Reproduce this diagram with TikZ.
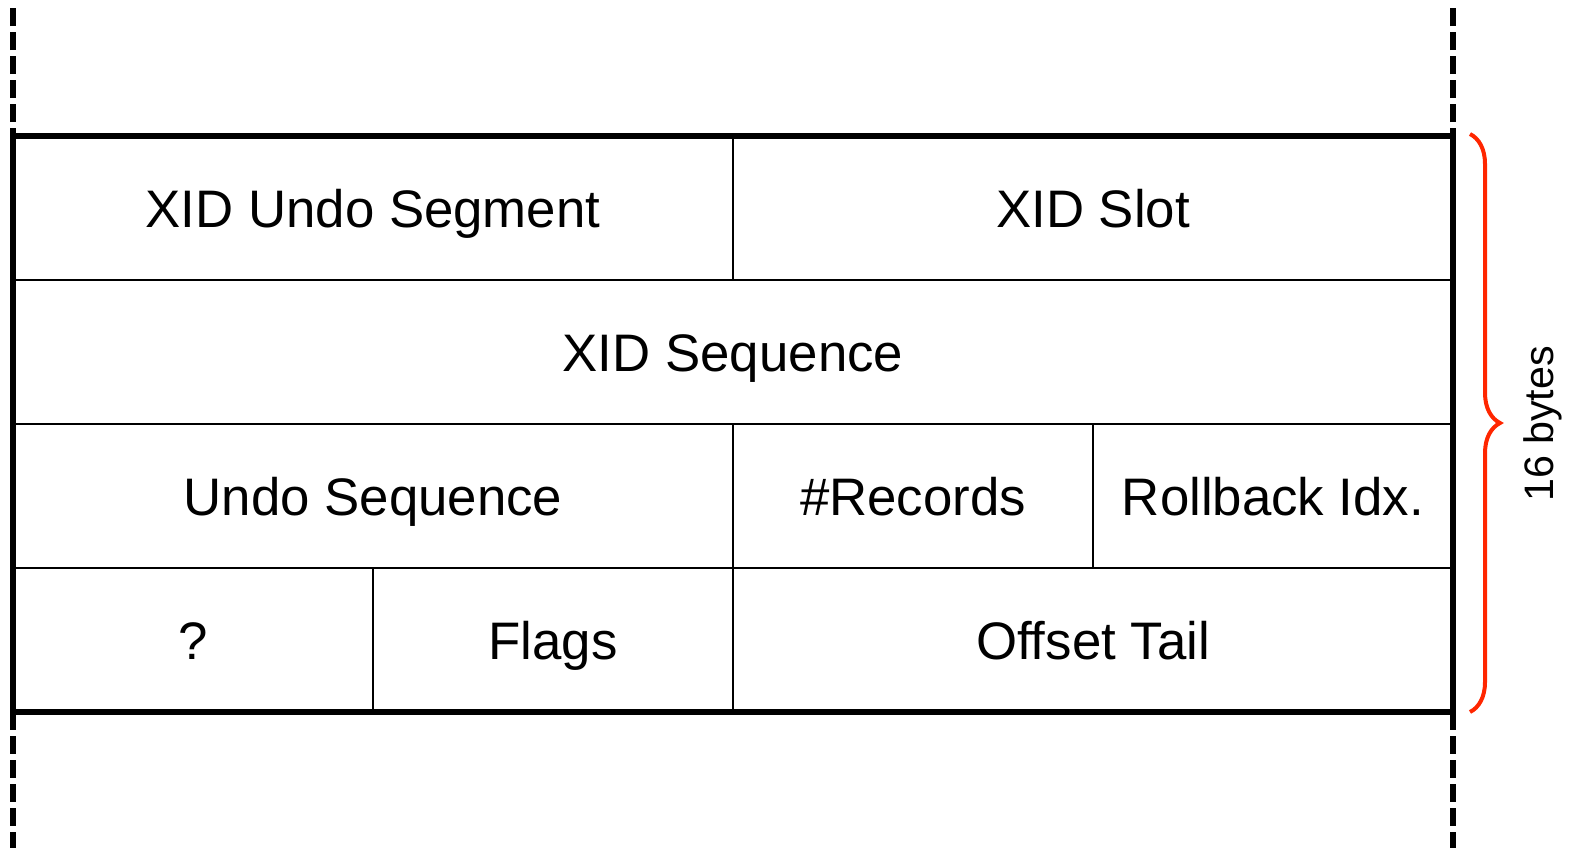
\documentclass[tikz,border=0pt]{standalone}
\usepackage{fontspec}
\setmainfont{Liberation Sans}
\usetikzlibrary{decorations.pathreplacing}
\definecolor{bracered}{RGB}{255,38,0}

\begin{document}
\begin{tikzpicture}[x=0.5pt, y=-0.5pt, every node/.style={anchor=base, font=\fontsize{26.4}{30}\selectfont},
    sep/.style={line width=1.1pt}, border/.style={line width=3pt}]

\useasboundingbox (0,0) rectangle (1572,848);

% Field labels, row by row (placed on their baselines)
\node (undoseg) at (373,227) {XID Undo Segment};
\node (slot) at (1093,227) {XID Slot};
\node (xidseq) at (733,371) {XID Sequence};
\node (undoseq) at (373,515) {Undo Sequence};
\node (records) at (913,515) {\#Records};
\node (rollback) at (1273,515) {Rollback Idx.};
\node (unknown) at (193,659) {?};
\node (flags) at (553,659) {Flags};
\node (tail) at (1093,659) {Offset Tail};

% Inner separators
\draw[sep] (13,280) -- (1453,280);
\draw[sep] (13,424) -- (1453,424);
\draw[sep] (13,568) -- (1453,568);
\draw[sep] (733,136) -- (733,280);
\draw[sep] (733,424) -- (733,712);
\draw[sep] (1093,424) -- (1093,568);
\draw[sep] (373,568) -- (373,712);

% Outer frame, continued dashed above and below
\draw[border] (13,136) -- (1453,136);
\draw[border] (13,712) -- (1453,712);
\draw[border] (13,136) -- (13,712);
\draw[border] (1453,136) -- (1453,712);
\draw[border, dash pattern=on 9pt off 3pt] (13,146) -- (13,6);
\draw[border, dash pattern=on 9pt off 3pt] (13,712) -- (13,848);
\draw[border, dash pattern=on 9pt off 3pt] (1453,146) -- (1453,6);
\draw[border, dash pattern=on 9pt off 3pt] (1453,712) -- (1453,848);

% Size brace
\draw[bracered, line width=2pt, decorate, decoration={brace, amplitude=15pt}]
    (1470,134) -- (1470,712);
\node[rotate=90, font=\fontsize{20.6}{24}\selectfont] (size) at (1553,424) {16 bytes};

\end{tikzpicture}
\end{document}
